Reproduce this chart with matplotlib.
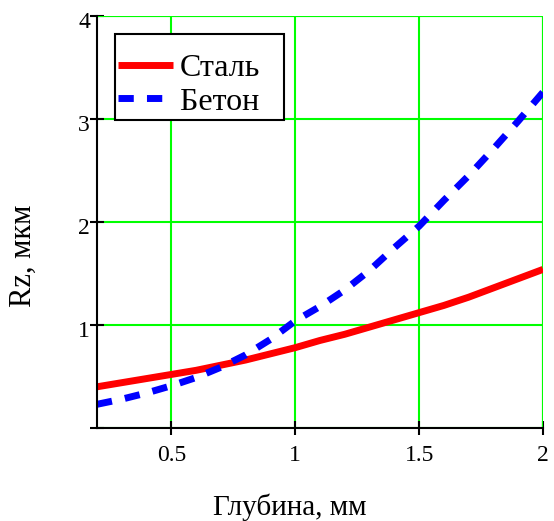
import matplotlib.pyplot as plt
import matplotlib.transforms as mtransforms

# Глубина, мм
depth = [0.2, 0.3, 0.4, 0.5, 0.6, 0.7, 0.8, 0.9, 1.0, 1.1,
         1.2, 1.3, 1.4, 1.5, 1.6, 1.7, 1.8, 1.9, 2.0]
# Rz, мкм
rz_steel = [0.40, 0.44, 0.48, 0.52, 0.56, 0.61, 0.66, 0.72, 0.78, 0.85,
            0.91, 0.98, 1.05, 1.12, 1.19, 1.27, 1.36, 1.45, 1.54]
rz_concrete = [0.23, 0.28, 0.34, 0.41, 0.49, 0.59, 0.71, 0.86, 1.04, 1.18,
               1.34, 1.53, 1.75, 1.96, 2.21, 2.45, 2.71, 2.98, 3.26]

x_ticks = [0.5, 1, 1.5, 2]
x_tick_labels = ['0.5', '1', '1.5', '2']
y_ticks = [0, 1, 2, 3, 4]
y_tick_labels = ['', '1', '2', '3', '4']

plt.rcParams['font.family'] = ['Liberation Serif', 'DejaVu Serif']

fig = plt.figure(figsize=(5.54, 5.21), dpi=100)
ax = fig.add_axes([97 / 554, 93 / 521, 446 / 554, 412 / 521])

ax.plot(depth, rz_steel, color='#ff0000', lw=5, solid_capstyle='butt',
        label='Сталь', zorder=3)
ax.plot(depth, rz_concrete, color='#0000ff', lw=5, ls=(0, (2.2, 1.9)),
        label='Бетон\u2002\u2009', zorder=3)

ax.set_xlim(0.2, 2)
ax.set_ylim(0, 4)
ax.set_xticks(x_ticks)
ax.set_xticklabels(x_tick_labels)
ax.set_yticks(y_ticks)
ax.set_yticklabels(y_tick_labels)
ax.grid(True, color='#00ff00', lw=1.5)
ax.set_axisbelow(True)

for side in ['top', 'right']:
    ax.spines[side].set_visible(False)
for side in ['left', 'bottom']:
    ax.spines[side].set_linewidth(1.5)
    ax.spines[side].set_zorder(4)

ax.tick_params(direction='inout', length=10, width=1.5, labelsize=17)
ax.tick_params(axis='x', pad=7)
ax.tick_params(axis='y', pad=0)

# y tick numbers hang a little below their tick
shift = mtransforms.ScaledTranslation(0, -3 / 72, fig.dpi_scale_trans)
for lbl in ax.get_yticklabels():
    lbl.set_transform(lbl.get_transform() + shift)

# green frame along the outer grid lines
ax.axhline(4, color='#00ff00', lw=1.5, zorder=1)
ax.axvline(2, color='#00ff00', lw=1.5, zorder=1)

fig.text(290 / 554, 1 - 515 / 521, 'Глубина, мм', fontsize=21,
         ha='center', va='baseline')
fig.text(23 / 554, 1 - 256 / 521, 'Rz, мкм', fontsize=22,
         ha='center', va='center', rotation=90)

leg = ax.legend(loc='upper left', bbox_to_anchor=(18 / 446, 1 - 18 / 412),
                fontsize=23, title=' ', title_fontsize=10,
                frameon=True, fancybox=False, edgecolor='black', framealpha=1,
                handlelength=1.7, handletextpad=0.22, borderpad=0.1,
                labelspacing=0.12, borderaxespad=0)
leg.get_frame().set_linewidth(1.5)

fig.savefig('out.png', dpi=100)
